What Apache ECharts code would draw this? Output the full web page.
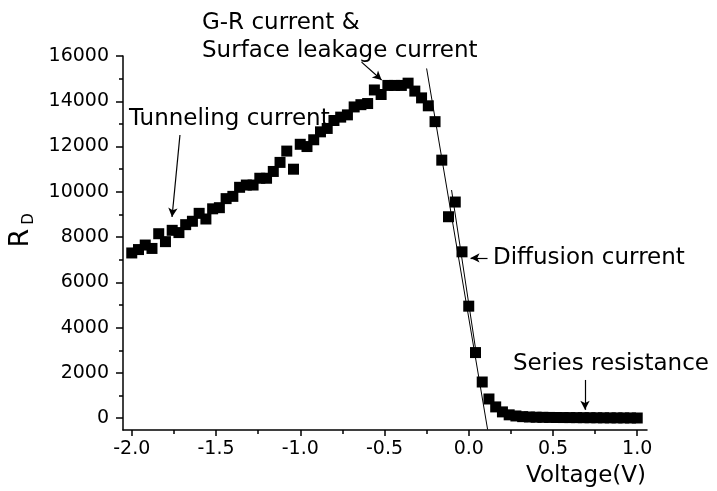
<!DOCTYPE html>
<html><head><meta charset="utf-8">
<script src="https://cdn.jsdelivr.net/npm/echarts@6/dist/echarts.min.js"></script>
<style>html,body{margin:0;padding:0;background:#fff}#c{width:717px;height:491px}</style>
</head><body><div id="c"></div>
<script>
// ---- data ----
const voltage = [-2.00,-1.96,-1.92,-1.88,-1.84,-1.80,-1.76,-1.72,-1.68,-1.64,-1.60,-1.56,-1.52,-1.48,-1.44,-1.40,-1.36,-1.32,-1.28,-1.24,-1.20,-1.16,-1.12,-1.08,-1.04,-1.00,-0.96,-0.92,-0.88,-0.84,-0.80,-0.76,-0.72,-0.68,-0.64,-0.60,-0.56,-0.52,-0.48,-0.44,-0.40,-0.36,-0.32,-0.28,-0.24,-0.20,-0.16,-0.12,-0.08,-0.04,0.00,0.04,0.08,0.12,0.16,0.20,0.24,0.28,0.32,0.36,0.40,0.44,0.48,0.52,0.56,0.60,0.64,0.68,0.72,0.76,0.80,0.84,0.88,0.92,0.96,1.00];
const resistance = [7300,7450,7650,7500,8150,7800,8300,8200,8550,8700,9050,8800,9250,9300,9700,9800,10200,10300,10300,10600,10600,10900,11300,11800,11000,12100,12000,12300,12650,12800,13150,13300,13400,13750,13850,13900,14500,14300,14700,14700,14700,14800,14450,14150,13800,13100,11400,8900,9550,7350,4950,2900,1600,850,500,280,150,100,70,55,45,40,35,32,30,28,26,24,22,20,18,16,15,14,12,10];
const xTicks = [-2.0,-1.5,-1.0,-0.5,0.0,0.5,1.0];
const xTickLabels = ['-2.0','-1.5','-1.0','-0.5','0.0','0.5','1.0'];
const xMinorTicks = [-1.75,-1.25,-0.75,-0.25,0.25,0.75];
const yTicks = [0,2000,4000,6000,8000,10000,12000,14000,16000];
const yTickLabels = ['0','2000','4000','6000','8000','10000','12000','14000','16000'];
const yMinorTicks = [1000,3000,5000,7000,9000,11000,13000,15000];
const fit1V = [-0.25, 0.112];
const fit1R = [15450, -500];
const fit2V = [-0.102, 0.046];
const fit2R = [10080, 2795];
// arrows: [fromV, fromR, toV, toR]
const arrowTunneling = [-1.714, 12510, -1.761, 8890];
const arrowGR = [-0.636, 15730, -0.517, 14940];
const arrowDiffusion = [0.1115, 7080, 0.0107, 7080];
const arrowSeries = [0.69, 1690, 0.69, 370];
const xTitle = 'Voltage(V)';
const yTitleMain = 'R';
const yTitleSub = 'D';
const noteGR1 = 'G-R current &';
const noteGR2 = 'Surface leakage current';
const noteTunneling = 'Tunneling current';
const noteDiffusion = 'Diffusion current';
const noteSeries = 'Series resistance';

// ---- chart ----
const FONT = 'DejaVu Sans';
const chart = echarts.init(document.getElementById('c'), null, {renderer: 'canvas'});
const axisColor = '#000';
const arrowLine = (a) => [{coord: [a[0], a[1]], symbol: 'none'}, {coord: [a[2], a[3]], symbol: 'arrow'}];
const txt = (x, y, text, extra) => Object.assign({
  type: 'text', x: x, y: y, silent: true,
  style: {text: text, fill: '#000', font: '23px "' + FONT + '"', textVerticalAlign: 'middle', textAlign: 'left'}
}, extra || {});

chart.setOption({
  animation: false,
  backgroundColor: '#fff',
  grid: {left: 123, right: 70, top: 56, bottom: 61, containLabel: false},
  xAxis: [{
    type: 'value', min: -2.052, max: 1.058, position: 'bottom',
    axisLine: {show: true, onZero: false, lineStyle: {color: axisColor, width: 1.5}},
    axisTick: {show: true, inside: false, length: 6, customValues: xTicks, lineStyle: {color: axisColor, width: 1.5}},
    axisLabel: {show: true, margin: 10, customValues: xTicks, color: '#000', fontFamily: FONT, fontSize: 19,
      formatter: v => { const i = xTicks.findIndex(t => Math.abs(t - v) < 1e-9); return i >= 0 ? xTickLabels[i] : ''; }},
    splitLine: {show: false}
  }, {
    type: 'value', min: -2.052, max: 1.058, position: 'bottom',
    axisLine: {show: false, onZero: false},
    axisTick: {show: true, inside: false, length: 4, customValues: xMinorTicks, lineStyle: {color: axisColor, width: 1.5}},
    axisLabel: {show: false},
    splitLine: {show: false}
  }],
  yAxis: [{
    type: 'value', min: -520, max: 16000, position: 'left',
    axisLine: {show: true, onZero: false, lineStyle: {color: axisColor, width: 1.5}},
    axisTick: {show: true, inside: false, length: 7, customValues: yTicks, lineStyle: {color: axisColor, width: 1.5}},
    axisLabel: {show: true, margin: 14, customValues: yTicks, color: '#000', fontFamily: FONT, fontSize: 19,
      formatter: v => { const i = yTicks.indexOf(v); return i >= 0 ? yTickLabels[i] : ''; }},
    splitLine: {show: false}
  }, {
    type: 'value', min: -520, max: 16000, position: 'left',
    axisLine: {show: false, onZero: false},
    axisTick: {show: true, inside: false, length: 4, customValues: yMinorTicks, lineStyle: {color: axisColor, width: 1.5}},
    axisLabel: {show: false},
    splitLine: {show: false}
  }],
  series: [{
    type: 'scatter', name: 'RD', symbol: 'rect', symbolSize: 11,
    itemStyle: {color: '#000', opacity: 1},
    emphasis: {disabled: true},
    data: voltage.map((v, i) => [v, resistance[i]]),
    z: 3
  }, {
    type: 'line', name: 'fit1', symbol: 'none', clip: true,
    lineStyle: {color: '#000', width: 1},
    data: fit1V.map((v, i) => [v, fit1R[i]]), z: 4
  }, {
    type: 'line', name: 'fit2', symbol: 'none',
    lineStyle: {color: '#000', width: 1},
    data: fit2V.map((v, i) => [v, fit2R[i]]), z: 4
  }, {
    type: 'line', name: 'notes', data: [], symbol: 'none',
    markLine: {
      silent: true, animation: false, symbolSize: [7, 9], precision: 6,
      label: {show: false},
      lineStyle: {color: '#000', width: 1.2, type: 'solid'},
      emphasis: {disabled: true},
      data: [arrowLine(arrowTunneling), arrowLine(arrowGR), arrowLine(arrowDiffusion), arrowLine(arrowSeries)]
    }
  }],
  graphic: [
    txt(202, 23, noteGR1),
    txt(202, 51, noteGR2),
    txt(129, 119, noteTunneling),
    txt(493, 258, noteDiffusion),
    txt(513, 364, noteSeries),
    txt(586, 476, xTitle, {style: {text: xTitle, fill: '#000', font: '23px "' + FONT + '"', textVerticalAlign: 'middle', textAlign: 'center'}}),
    txt(21, 238, yTitleMain, {rotation: Math.PI / 2, style: {text: yTitleMain, fill: '#000', font: '27px "' + FONT + '"', textVerticalAlign: 'middle', textAlign: 'center'}}),
    txt(29, 219, yTitleSub, {rotation: Math.PI / 2, style: {text: yTitleSub, fill: '#000', font: '15px "' + FONT + '"', textVerticalAlign: 'middle', textAlign: 'center'}})
  ]
});
</script>
</body></html>
